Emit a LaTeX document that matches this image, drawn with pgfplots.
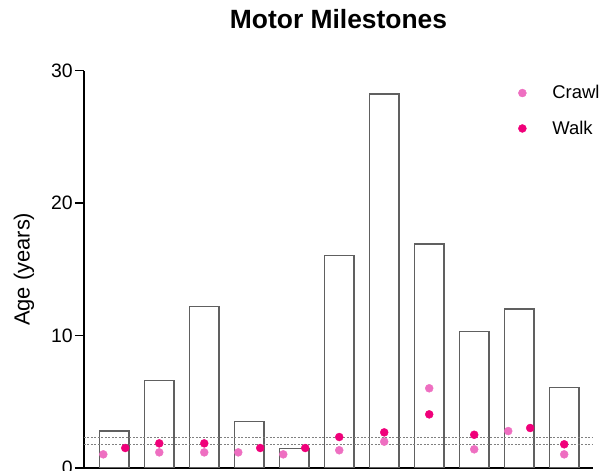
\documentclass[border=0pt]{standalone}
\usepackage{fontspec}
\setmainfont{Liberation Sans}
\usepackage{pgfplots}
\pgfplotsset{compat=1.18}
\definecolor{crawl}{HTML}{EE6FC1}
\definecolor{walk}{HTML}{F0007A}
\definecolor{bargray}{HTML}{606060}

\begin{document}
\begin{tikzpicture}
\begin{axis}[
    name=ax,
    scale only axis,
    width=509bp, height=397.3bp,
    xmin=0.327, xmax=11.64,
    ymin=0, ymax=30,
    axis x line*=bottom, axis y line*=left,
    axis line style={line width=1.8bp, black, -},
    xtick=\empty,
    ytick={0,10,20,30},
    tick align=outside,
    major tick length=9bp,
    tick style={line width=1.5bp, black},
    /pgf/number format/assume math mode=true,
    yticklabel style={font=\fontsize{19.5}{20}\selectfont, inner sep=2bp},
    ylabel={Age (years)},
    ylabel style={font=\fontsize{22}{24}\selectfont, at={(axis description cs:-0.118,0.5)}, anchor=center},
    title={Motor Milestones},
    title style={font=\bfseries\fontsize{26.5}{28}\selectfont, at={(axis description cs:0.5,1)}, anchor=center, yshift=45.7bp},
    legend style={draw=none, fill=none, at={(axis description cs:0.853,0.968)}, anchor=north west,
        font=\fontsize{18.5}{21}\selectfont, row sep=16.6bp, inner sep=0pt,
        /tikz/every odd column/.append style={column sep=24bp}},
    legend cell align=left,
]
% bars
\addplot[ybar, bar width=0.655, bar shift=0pt, draw=bargray, fill=none, line width=1.3bp, forget plot] table {
x y
1 2.79
2 6.59
3 12.21
4 3.50
5 1.49
6 16.03
7 28.25
8 16.92
9 10.32
10 12.01
11 6.10
};
% reference lines
\addplot[gray, line width=0.6bp, dash pattern=on 2bp off 1.5bp, forget plot] coordinates {(0.327,2.32) (11.64,2.32)};
\addplot[gray, line width=0.6bp, dash pattern=on 2bp off 1.5bp, forget plot] coordinates {(0.327,1.81) (11.64,1.81)};
% milestones
\addplot[only marks, mark=*, mark size=4bp, color=crawl, mark options={draw=none, fill=crawl}] table {
x y
0.756 1.03
2 1.18
3 1.18
3.756 1.18
4.756 1.03
6 1.34
7 1.99
8 6.02
9 1.41
9.756 2.79
11 1.03
};
\addplot[only marks, mark=*, mark size=4bp, color=walk, mark options={draw=none, fill=walk}] table {
x y
1.244 1.51
2 1.86
3 1.86
4.244 1.51
5.244 1.51
6 2.34
7 2.69
8 4.05
9 2.51
10.244 3.02
11 1.79
};
\legend{Crawl, Walk}
\end{axis}
\pgfresetboundingbox
\path[use as bounding box] (ax.south west) ++(-84bp,-3bp) rectangle ++(606bp,471bp);
\end{tikzpicture}
\end{document}
